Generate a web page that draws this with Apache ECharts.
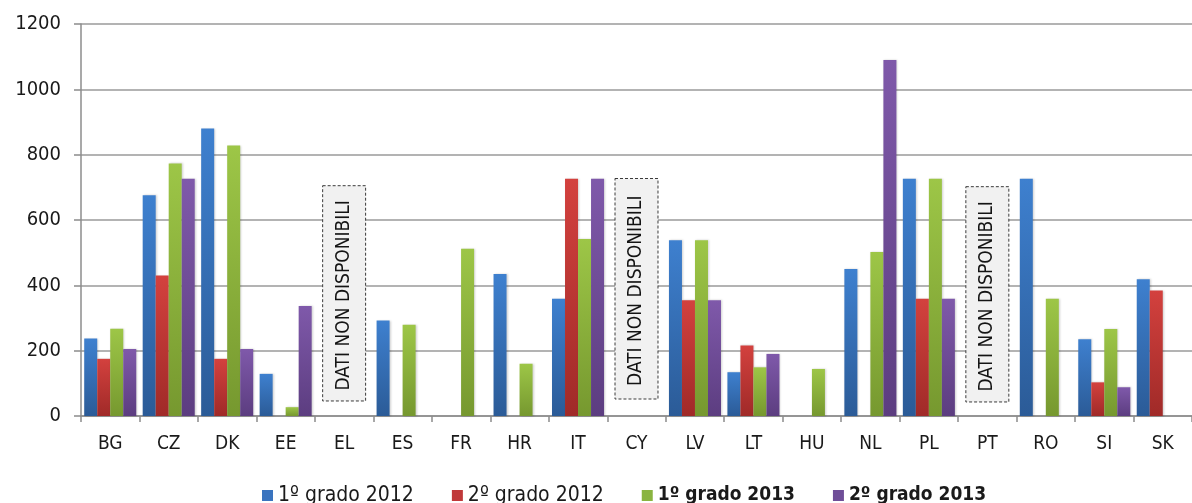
<!DOCTYPE html>
<html>
<head>
<meta charset="utf-8">
<script src="https://cdn.jsdelivr.net/npm/echarts@6/dist/echarts.min.js"></script>
<style>
  html, body { margin: 0; padding: 0; background: #fff; }
  #chart { width: 1192px; height: 503px; }
</style>
</head>
<body>
<div id="chart"></div>
<script>
const categories = ["BG", "CZ", "DK", "EE", "EL", "ES", "FR", "HR", "IT", "CY", "LV", "LT", "HU", "NL", "PL", "PT", "RO", "SI", "SK"];

// null = no bar drawn
const primo2012 = [237, 676, 880, 129, null, 292, null, 435, 359, null, 538, 134, null, 450, 726, null, 726, 235, 419];
const secondo2012 = [175, 430, 175, null, null, null, null, null, 726, null, 354, 216, null, null, 359, null, null, 103, 384];
const primo2013 = [267, 773, 828, 27, null, 279, 512, 160, 542, null, 538, 149, 144, 502, 726, null, 359, 266, null];
const secondo2013 = [205, 726, 205, 337, null, null, null, null, 726, null, 354, 190, null, 1090, 359, null, null, 88, null];

const naCategories = ["EL", "CY", "PT"];
const naTop = [705, 727, 702];
const naBottom = [46, 52, 43];
const naLabel = "DATI NON DISPONIBILI";

const seriesNames = ["1º grado 2012", "2º grado 2012", "1º grado 2013", "2º grado 2013"];

const yTicks = { min: 0, max: 1200, step: 200 };

const FONT = "DejaVu Sans Condensed";

function grad(top, bottom) {
  return new echarts.graphic.LinearGradient(0, 0, 0, 1, [
    { offset: 0, color: top },
    { offset: 1, color: bottom },
  ]);
}

const palette = [
  ["#3e80cf", "#2b5b97"],
  ["#d3413e", "#a02a28"],
  ["#9dc647", "#76982f"],
  ["#7f59aa", "#5c3d80"],
];
const legendColors = ["#3a74bf", "#c0393a", "#8ab440", "#6f4e98"];

const chart = echarts.init(document.getElementById("chart"), null, { renderer: "canvas" });

const barData = [primo2012, secondo2012, primo2013, secondo2013];

const barSeries = barData.map((values, i) => ({
  name: seriesNames[i],
  type: "bar",
  data: values,
  barGap: "0%",
  barCategoryGap: "11%",
  itemStyle: {
    color: grad(palette[i][0], palette[i][1]),
    shadowColor: "rgba(0,0,0,0.18)",
    shadowBlur: 2,
    shadowOffsetX: 1,
  },
  emphasis: { disabled: true },
}));

const naSeries = {
  type: "custom",
  name: "na",
  silent: true,
  z: 5,
  data: naCategories.map((c, i) => [c, naTop[i], naBottom[i]]),
  renderItem: (params, api) => {
    const top = api.coord([api.value(0), api.value(1)]);
    const bottom = api.coord([api.value(0), api.value(2)]);
    const w = api.size([1, 0])[0] * 0.735;
    const cx = top[0];
    const h = bottom[1] - top[1];
    return {
      type: "group",
      children: [
        {
          type: "rect",
          shape: { x: cx - w / 2, y: top[1], width: w, height: h },
          style: { fill: "#f1f1f1", stroke: "#3a3a3a", lineWidth: 1, lineDash: [3, 2] },
        },
        {
          type: "text",
          x: cx,
          y: top[1] + h / 2 + 2,
          rotation: Math.PI / 2,
          style: {
            text: naLabel,
            fontSize: 19,
            fontFamily: FONT,
            fill: "#141414",
            align: "center",
            verticalAlign: "middle",
          },
        },
      ],
    };
  },
};

chart.setOption({
  animation: false,
  backgroundColor: "#ffffff",
  textStyle: { fontFamily: FONT },
  grid: {
    left: 81,
    right: -2,
    top: 24,
    bottom: 87,
  },
  legend: {
    left: 257,
    top: 480,
    itemWidth: 11,
    itemHeight: 11,
    itemGap: 38,
    icon: "rect",
    selectedMode: false,
    textStyle: { fontSize: 21, color: "#1a1a1a", fontFamily: FONT },
    data: seriesNames.map((n, i) => ({
      name: n,
      itemStyle: { color: legendColors[i] },
      textStyle: i >= 2 ? { fontWeight: "bold", fontSize: 19 } : {},
    })),
  },
  xAxis: {
    type: "category",
    data: categories,
    axisLine: { lineStyle: { color: "#8c8c8c", width: 1.5 } },
    axisTick: { show: true, length: 6, lineStyle: { color: "#8c8c8c", width: 1.5 } },
    axisLabel: { color: "#1a1a1a", fontSize: 19, margin: 19 },
  },
  yAxis: {
    type: "value",
    min: yTicks.min,
    max: yTicks.max,
    interval: yTicks.step,
    axisLine: { show: true, lineStyle: { color: "#8c8c8c", width: 1.5 } },
    axisTick: { show: true, length: 7, lineStyle: { color: "#8c8c8c", width: 1.5 } },
    axisLabel: { color: "#1a1a1a", fontSize: 20, margin: 20, formatter: (v) => String(v) },
    splitLine: { lineStyle: { color: "#9a9a9a", width: 1.5 } },
  },
  series: [...barSeries, naSeries],
});
</script>
</body>
</html>
